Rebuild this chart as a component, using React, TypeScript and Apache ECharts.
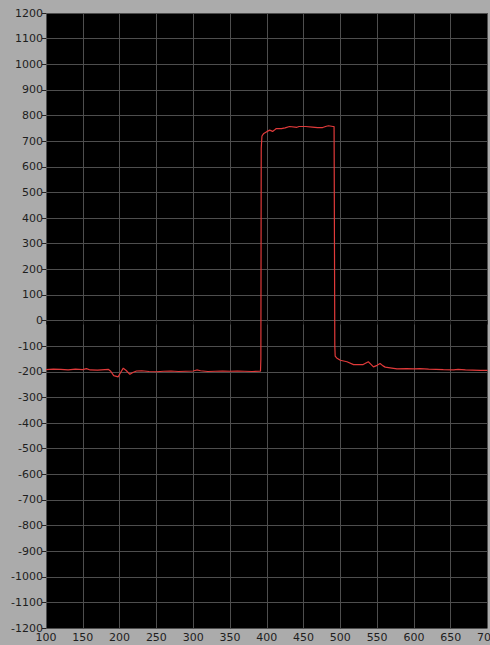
import React, { useEffect, useRef } from "react";
import * as echarts from "echarts";

const xs = [
  100, 110, 120, 130, 140, 150, 155, 160, 170, 180, 185, 188, 192, 198, 201, 205, 209, 214, 218, 223,
  230, 240, 250, 260, 270, 280, 290, 300, 305, 310, 320, 330, 340, 350, 360, 370, 380, 390, 391.5,
  392, 392.5, 393.5, 396, 400, 404, 408, 410, 413, 420, 425, 431, 441, 444, 453, 462, 469, 476, 481,
  484, 490, 491.5, 492.5, 493, 495, 500, 509, 518, 531, 538, 542, 545, 550, 554, 558, 561, 570, 577,
  590, 600, 608, 620, 630, 640, 654, 660, 670, 680, 690, 700,
];
const ys = [
  -192, -190, -191, -193, -190, -192, -188, -193, -194, -192, -191, -198, -215, -220, -205, -186, -195,
  -210, -203, -197, -196, -199, -200, -198, -197, -199, -198, -197, -193, -196, -199, -198, -197, -198,
  -197, -198, -199, -198, -198, -150, 672, 720, 730, 737, 743, 738, 742, 749, 749, 752, 757, 754, 757,
  757, 755, 753, 753, 758, 760, 757, 757, -100, -139, -146, -155, -161, -172, -172, -161, -172, -181,
  -175, -168, -177, -182, -186, -189, -188, -189, -188, -190, -191, -192, -193, -191, -193, -194, -195,
  -195,
];

export default function App() {
  const ref = useRef<HTMLDivElement>(null);
  useEffect(() => {
    if (!ref.current) return;
    const chart = echarts.init(ref.current, null, { renderer: "svg" });
    const labelStyle = {
      color: "#1e1e1e",
      fontSize: 11,
      fontFamily: "DejaVu Sans",
      formatter: (v: number) => String(v),
    };
    chart.setOption({
      animation: false,
      backgroundColor: "#ababab",
      grid: {
        left: 46,
        top: 13,
        right: 2.5,
        bottom: 17,
        show: true,
        backgroundColor: "#000000",
        borderWidth: 0,
        outerBoundsMode: "none",
        containLabel: false,
      },
      xAxis: {
        type: "value",
        min: 100,
        max: 700,
        interval: 50,
        axisLine: { show: false },
        axisTick: { show: true, length: 4, lineStyle: { color: "#222" } },
        axisLabel: { ...labelStyle, margin: 4, hideOverlap: false },
        splitLine: { show: true, lineStyle: { color: "#4e4e4e", width: 1 } },
      },
      yAxis: {
        type: "value",
        min: -1200,
        max: 1200,
        interval: 100,
        axisLine: { show: false },
        axisTick: { show: true, length: 4, lineStyle: { color: "#222" } },
        axisLabel: { ...labelStyle, margin: 3, hideOverlap: false },
        splitLine: { show: true, lineStyle: { color: "#4e4e4e", width: 1 } },
      },
      series: [
        {
          type: "line",
          data: xs.map((x, i) => [x, ys[i]]),
          showSymbol: false,
          symbol: "none",
          lineStyle: { color: "#e03a3a", width: 1.2 },
        },
      ],
    });
    return () => chart.dispose();
  }, []);
  return (
    <div
      ref={ref}
      style={{ position: "absolute", left: 0, top: 0, width: 490, height: 645 }}
    />
  );
}
